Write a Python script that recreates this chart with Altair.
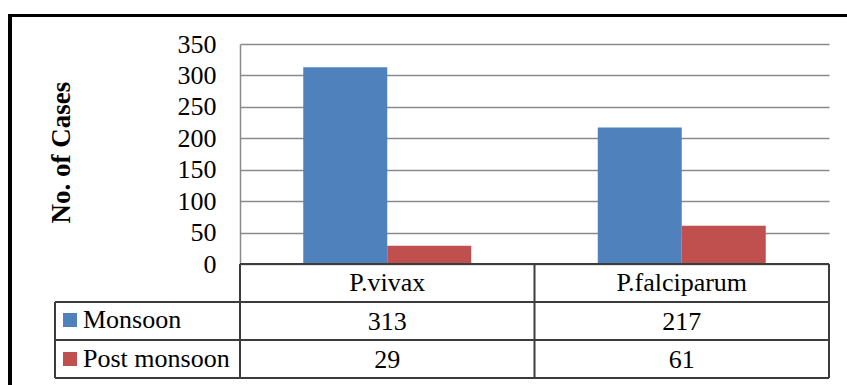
import altair as alt
import pandas as pd

categories = ["P.vivax", "P.falciparum"]
series = ["Monsoon", "Post monsoon"]
monsoon = [313, 217]
post_monsoon = [29, 61]
y_ticks = [0, 50, 100, 150, 200, 250, 300, 350]
colors = ["#4F81BD", "#C0504D"]

FONT = "'Liberation Serif', 'Times New Roman', Times, 'DejaVu Serif', serif"
FS = 26
LINE = "#3c3c3c"

rows = []
for i, c in enumerate(categories):
    rows.append({"category": c, "series": series[0], "value": monsoon[i]})
    rows.append({"category": c, "series": series[1], "value": post_monsoon[i]})
df = pd.DataFrame(rows)

base = alt.Chart(df)

xs = alt.X("category:N", sort=categories, axis=None,
           scale=alt.Scale(paddingInner=0, paddingOuter=0))
color = alt.Color("series:N", sort=series, legend=None,
                  scale=alt.Scale(domain=series, range=colors))

bars = base.mark_bar().encode(
    x=xs,
    xOffset=alt.XOffset("series:N", sort=series,
                        scale=alt.Scale(paddingInner=0, paddingOuter=0.753)),
    y=alt.Y("value:Q",
            scale=alt.Scale(domain=[0, 350], nice=False),
            axis=alt.Axis(values=y_ticks, title="No. of Cases",
                          labelFont=FONT, labelFontSize=26, labelColor="black",
                          labelPadding=24, tickSize=0, ticks=False,
                          domainColor="#8a8a8a", domainWidth=1.5,
                          gridColor="#8a8a8a", gridWidth=1.5,
                          titleFont=FONT, titleFontSize=27, titleFontWeight="bold",
                          titleColor="black", titleAngle=-90,
                          titleX=-179, titleY=108, titleAlign="center",
                          titleBaseline="middle")),
    color=color,
)

one = pd.DataFrame({"a": [0]})


def hline(y, x1, x2, w=2, c=LINE):
    return alt.Chart(one).mark_rule(color=c, strokeWidth=w).encode(
        x=alt.value(x1), x2=alt.value(x2), y=alt.value(y))


def vline(x, y1, y2, w=2, c=LINE):
    return alt.Chart(one).mark_rule(color=c, strokeWidth=w).encode(
        x=alt.value(x), y=alt.value(y1), y2=alt.value(y2))


cat_text = base.transform_filter(alt.datum.series == series[0]).mark_text(
    font=FONT, fontSize=FS, color="black", baseline="alphabetic"
).encode(x=xs, y=alt.value(247), text="category:N")

mon_text = base.transform_filter(alt.datum.series == series[0]).mark_text(
    font=FONT, fontSize=FS, color="black", baseline="alphabetic"
).encode(x=xs, y=alt.value(286), text="value:Q")

post_text = base.transform_filter(alt.datum.series == series[1]).mark_text(
    font=FONT, fontSize=FS, color="black", baseline="alphabetic"
).encode(x=xs, y=alt.value(324), text="value:Q")

sq_m = base.transform_filter(
    (alt.datum.series == series[0]) & (alt.datum.category == categories[0])
).mark_square(size=196, opacity=1).encode(
    x=alt.value(-170), y=alt.value(276), color=color)
sq_p = base.transform_filter(
    (alt.datum.series == series[1]) & (alt.datum.category == categories[0])
).mark_square(size=196, opacity=1).encode(
    x=alt.value(-170), y=alt.value(315), color=color)

lab_m = base.transform_filter(
    (alt.datum.series == series[0]) & (alt.datum.category == categories[0])
).mark_text(font=FONT, fontSize=FS, color="black", align="left",
            baseline="alphabetic").encode(
    x=alt.value(-157), y=alt.value(284), text="series:N")
lab_p = base.transform_filter(
    (alt.datum.series == series[1]) & (alt.datum.category == categories[0])
).mark_text(font=FONT, fontSize=FS, color="black", align="left",
            baseline="alphabetic").encode(
    x=alt.value(-157), y=alt.value(323), text="series:N")

lines = [
    hline(220, 0, 589),
    hline(258, -185, 589),
    hline(296, -185, 589),
    hline(334, -185, 589),
    vline(0, 220, 334),
    vline(294.5, 220, 334),
    vline(589, 220, 334),
    vline(-185, 258, 334),
    hline(-28.5, -232, 607, w=3, c="black"),
    vline(-230, -30, 345, w=4, c="black"),
]

chart = alt.layer(
    bars, *lines, cat_text, mon_text, post_text, sq_m, sq_p, lab_m, lab_p
).properties(
    width=589, height=220,
    autosize=alt.AutoSizeParams(type="none"),
    padding={"left": 240, "top": 44, "right": 18, "bottom": 121},
    background="white",
).configure_view(stroke=None)

chart.save("out.html", embed_options={"renderer": "svg", "actions": False})
